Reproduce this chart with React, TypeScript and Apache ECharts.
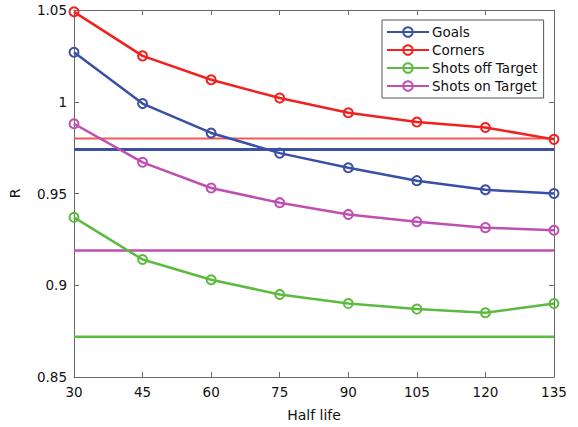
import React, { useEffect, useRef } from "react";
import * as echarts from "echarts";

const halfLife = [30, 45, 60, 75, 90, 105, 120, 135];
const goals = [1.027, 0.999, 0.983, 0.972, 0.964, 0.957, 0.952, 0.950];
const corners = [1.049, 1.025, 1.012, 1.002, 0.994, 0.989, 0.986, 0.9795];
const shotsOff = [0.937, 0.914, 0.903, 0.895, 0.890, 0.887, 0.885, 0.890];
const shotsOn = [0.988, 0.967, 0.953, 0.945, 0.9386, 0.9346, 0.9314, 0.930];
const seriesNames = ["Goals", "Corners", "Shots off Target", "Shots on Target"];
const baselines = [0.974, 0.980, 0.872, 0.919];
const colors = ["#3a4fa6", "#f0211e", "#5cbb3e", "#bf4fb1"];
const baselineColors = ["#3a4fa6", "#f25a55", "#5cbb3e", "#bf4fb1"];
const baselineWidths = [3, 2, 2.5, 2.5];

const FONT = "DejaVu Sans";

export default function App() {
  const ref = useRef<HTMLDivElement>(null);
  useEffect(() => {
    if (!ref.current) return;
    const chart = echarts.init(ref.current, undefined, { renderer: "svg" });
    const allData = [goals, corners, shotsOff, shotsOn];
    const axisColor = "#6a6a6a";
    const baselineSeries = baselines.map((v, i) => ({
      name: "baseline" + i,
      type: "line",
      data: [[halfLife[0], v], [halfLife[halfLife.length - 1], v]],
      symbol: "none",
      silent: true,
      lineStyle: { color: baselineColors[i], width: baselineWidths[i] },
      z: 2,
    }));
    chart.setOption({
      animation: false,
      backgroundColor: "#ffffff",
      grid: { left: 72.7, right: 24, top: 10, bottom: 46 },
      legend: {
        data: seriesNames,
        orient: "vertical",
        left: 382,
        top: 20,
        itemWidth: 42,
        itemHeight: 12,
        itemGap: 4,
        padding: [5, 6, 5, 4],
        backgroundColor: "#ffffff",
        borderColor: "#555",
        borderWidth: 1,
        textStyle: { fontFamily: FONT, fontSize: 13.5, color: "#111", padding: [0, 0, 0, -2] },
      },
      xAxis: [
        {
          type: "value",
          min: 30,
          max: 135,
          interval: 15,
          name: "Half life",
          nameLocation: "middle",
          nameGap: 31,
          nameTextStyle: { fontFamily: FONT, fontSize: 14, color: "#111" },
          axisLine: { show: true, lineStyle: { color: axisColor, width: 1 } },
          axisTick: { show: true, inside: true, length: 5, lineStyle: { color: axisColor } },
          axisLabel: { fontFamily: FONT, fontSize: 13.5, color: "#111", margin: 8 },
          splitLine: { show: false },
        },
        {
          type: "value",
          position: "top",
          min: 30,
          max: 135,
          interval: 15,
          axisLine: { show: true, lineStyle: { color: axisColor, width: 1 } },
          axisTick: { show: true, inside: true, length: 5, lineStyle: { color: axisColor } },
          axisLabel: { show: false },
          splitLine: { show: false },
        },
      ],
      yAxis: [
        {
          type: "value",
          min: 0.85,
          max: 1.05,
          interval: 0.05,
          name: "R",
          nameLocation: "middle",
          nameGap: 52,
          nameRotate: 90,
          nameTextStyle: { fontFamily: FONT, fontSize: 14, color: "#111" },
          axisLine: { show: true, lineStyle: { color: axisColor, width: 1 } },
          axisTick: { show: true, inside: true, length: 5, lineStyle: { color: axisColor } },
          axisLabel: {
            fontFamily: FONT,
            fontSize: 13.5,
            color: "#111",
            margin: 7,
            formatter: (v: number) => String(parseFloat(v.toFixed(2))),
          },
          splitLine: { show: false },
        },
        {
          type: "value",
          position: "right",
          min: 0.85,
          max: 1.05,
          interval: 0.05,
          axisLine: { show: true, lineStyle: { color: axisColor, width: 1 } },
          axisTick: { show: true, inside: true, length: 5, lineStyle: { color: axisColor } },
          axisLabel: { show: false },
          splitLine: { show: false },
        },
      ],
      series: [
        ...baselineSeries,
        ...seriesNames.map((name, i) => ({
          name,
          type: "line",
          data: halfLife.map((x, j) => [x, allData[i][j]]),
          symbol: "circle",
          symbolSize: 9,
          showAllSymbol: true,
          clip: false,
          color: colors[i],
          lineStyle: { color: colors[i], width: 2.5 },
          itemStyle: { color: "rgba(255,255,255,0)", borderColor: colors[i], borderWidth: 2 },
          z: 3,
        })),
      ],
    });
    return () => chart.dispose();
  }, []);
  return <div ref={ref} style={{ width: 578, height: 427, position: "absolute", left: 0, top: 0 }} />;
}
